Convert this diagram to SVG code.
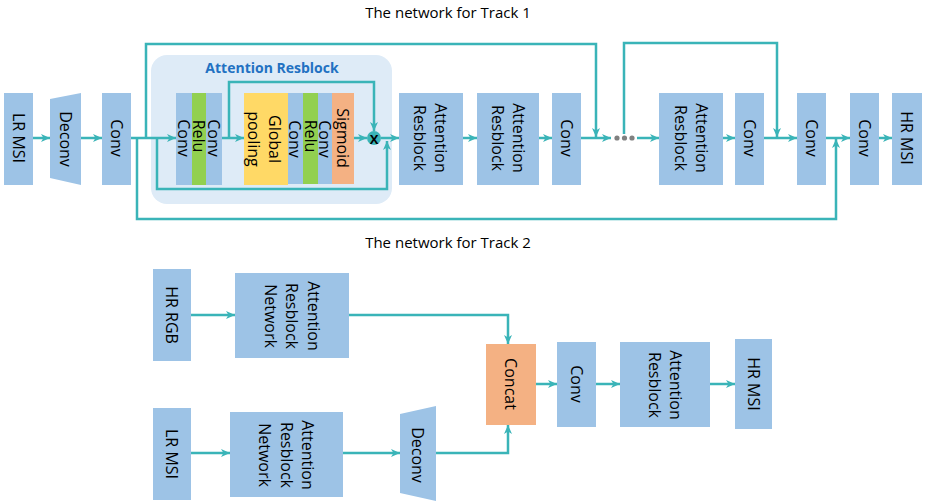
<svg xmlns="http://www.w3.org/2000/svg" width="925" height="501" viewBox="0 0 925 501">
<defs>
<marker id="ah" markerUnits="userSpaceOnUse" markerWidth="10" markerHeight="9" refX="9" refY="4.5" orient="auto">
<path d="M0,0.5 L9,4.5 L0,8.5 L2.5,4.5 z" fill="#3AB4B8"/>
</marker>
<style>
.b{fill:#9DC3E6}
.g{fill:#92D050}
.y{fill:#FFD966}
.o{fill:#F4B183}
.t{font-family:"Open Sans","Liberation Sans",sans-serif;font-size:16px;fill:#000;text-anchor:middle;dominant-baseline:central}
.h{font-family:"Open Sans","Liberation Sans",sans-serif;font-size:15px;fill:#000;text-anchor:middle;dominant-baseline:central}
.c{fill:none;stroke:#3AB4B8;stroke-width:2.5}
.a{marker-end:url(#ah)}
</style>
</defs>
<rect width="925" height="501" fill="#fff"/>
<text class="h" x="448" y="12">The network for Track 1</text>
<text class="h" x="448" y="242">The network for Track 2</text>

<g id="attention-resblock-bg">
<rect x="151" y="55" width="241" height="149" rx="16" fill="#DEEBF7"/>
<text x="272" y="67" font-family="Open Sans, Liberation Sans, sans-serif" font-size="14" font-weight="bold" fill="#2271C2" text-anchor="middle" dominant-baseline="central">Attention Resblock</text>
</g>

<g id="connectors">
<line class="c a" x1="33" y1="138" x2="50" y2="138"/>
<line class="c a" x1="81" y1="138" x2="102" y2="138"/>
<line class="c a" x1="131" y1="138" x2="176" y2="138"/>
<line class="c a" x1="222" y1="138" x2="244" y2="138"/>
<line class="c a" x1="354" y1="138" x2="367" y2="138"/>
<line class="c a" x1="381" y1="138" x2="399" y2="138"/>
<line class="c a" x1="463" y1="138" x2="477" y2="138"/>
<line class="c a" x1="539" y1="138" x2="552" y2="138"/>
<line class="c a" x1="581" y1="138" x2="611" y2="138"/>
<line class="c a" x1="637" y1="138" x2="659" y2="138"/>
<line class="c a" x1="723" y1="138" x2="735" y2="138"/>
<line class="c a" x1="764" y1="138" x2="797" y2="138"/>
<line class="c a" x1="826" y1="138" x2="850" y2="138"/>
<line class="c a" x1="879" y1="138" x2="892" y2="138"/>
<polyline class="c a" points="146,138 146,44 596,44 596,137"/>
<polyline class="c a" points="624,134 624,43 777,43 777,137"/>
<polyline class="c a" points="137,138 137,219 836,219 836,139"/>
<polyline class="c a" points="229,138 229,82 374,82 374,131"/>
<polyline class="c a" points="157,138 157,189 387,189 387,141"/>
<line class="c a" x1="191" y1="315" x2="235" y2="315"/>
<polyline class="c a" points="349,315 508,315 508,344"/>
<line class="c a" x1="191" y1="453" x2="230" y2="453"/>
<line class="c a" x1="343" y1="453" x2="400" y2="453"/>
<polyline class="c a" points="436,453 508,453 508,425"/>
<line class="c a" x1="536" y1="384" x2="557" y2="384"/>
<line class="c a" x1="596" y1="384" x2="620" y2="384"/>
<line class="c a" x1="710" y1="384" x2="735" y2="384"/>
</g>

<g id="lr-msi-1"><rect class="b" x="4" y="93" width="29" height="92"/><text class="t" transform="translate(18.5,138) rotate(90)">LR MSI</text></g>
<g id="deconv-1"><polygon class="b" points="50,99 81,93 81,185 50,178"/><text class="t" transform="translate(65.5,139) rotate(90)">Deconv</text></g>
<g id="conv-1"><rect class="b" x="102" y="93" width="29" height="92"/><text class="t" transform="translate(116.5,138) rotate(90)">Conv</text></g>

<g id="conv-relu-conv-a">
<rect class="b" x="176" y="93" width="16" height="92"/>
<rect class="g" x="192" y="93" width="14" height="92"/>
<rect class="b" x="206" y="93" width="16" height="92"/>
<text class="t" transform="translate(184,138) rotate(90)">Conv</text>
<text class="t" transform="translate(199,136) rotate(90)">Relu</text>
<text class="t" transform="translate(214,138) rotate(90)">Conv</text>
</g>
<g id="global-pooling"><rect class="y" x="244" y="93" width="44" height="92"/><text class="t" transform="translate(265,139) rotate(90)"><tspan x="0" y="-10">Global</tspan><tspan x="0" y="11">pooling</tspan></text></g>
<g id="conv-relu-conv-b">
<rect class="b" x="288" y="93" width="15" height="91"/>
<rect class="g" x="303" y="93" width="15" height="91"/>
<rect class="b" x="318" y="93" width="14" height="91"/>
<text class="t" transform="translate(295,139) rotate(90)">Conv</text>
<text class="t" transform="translate(311,136) rotate(90)">Relu</text>
<text class="t" transform="translate(325,139) rotate(90)">Conv</text>
</g>
<g id="sigmoid"><rect class="o" x="332" y="93" width="22" height="91"/><text class="t" transform="translate(343,138) rotate(90)">Sigmoid</text></g>
<g id="multiply"><circle cx="374" cy="138" r="7" fill="#3AB4B8"/><text x="374" y="138.5" font-family="Open Sans, Liberation Sans, sans-serif" font-size="13" font-weight="bold" fill="#000" text-anchor="middle" dominant-baseline="central">X</text></g>

<g id="ar-1"><rect class="b" x="399" y="93" width="64" height="92"/><text class="t" transform="translate(430,138) rotate(90)"><tspan x="0" y="-10.5">Attention</tspan><tspan x="0" y="10.5">Resblock</tspan></text></g>
<g id="ar-2"><rect class="b" x="477" y="93" width="62" height="92"/><text class="t" transform="translate(508,138) rotate(90)"><tspan x="0" y="-10.5">Attention</tspan><tspan x="0" y="10.5">Resblock</tspan></text></g>
<g id="conv-2"><rect class="b" x="552" y="93" width="29" height="92"/><text class="t" transform="translate(566.5,138) rotate(90)">Conv</text></g>
<g id="dots"><circle cx="617" cy="138" r="2.6" fill="#808080"/><circle cx="624.5" cy="138" r="2.6" fill="#808080"/><circle cx="632" cy="138" r="2.6" fill="#808080"/></g>
<g id="ar-3"><rect class="b" x="659" y="93" width="64" height="92"/><text class="t" transform="translate(691,138) rotate(90)"><tspan x="0" y="-10.5">Attention</tspan><tspan x="0" y="10.5">Resblock</tspan></text></g>
<g id="conv-3"><rect class="b" x="735" y="93" width="29" height="92"/><text class="t" transform="translate(749.5,138) rotate(90)">Conv</text></g>
<g id="conv-4"><rect class="b" x="797" y="93" width="29" height="92"/><text class="t" transform="translate(811.5,138) rotate(90)">Conv</text></g>
<g id="conv-5"><rect class="b" x="850" y="93" width="29" height="92"/><text class="t" transform="translate(864.5,138) rotate(90)">Conv</text></g>
<g id="hr-msi-1"><rect class="b" x="892" y="93" width="30" height="92"/><text class="t" transform="translate(907,138) rotate(90)">HR MSI</text></g>

<g id="hr-rgb"><rect class="b" x="153" y="269" width="38" height="92"/><text class="t" transform="translate(172,315) rotate(90)">HR RGB</text></g>
<g id="arn-1"><rect class="b" x="235" y="273" width="114" height="85"/><text class="t" transform="translate(292,316) rotate(90)"><tspan x="0" y="-21.5">Attention</tspan><tspan x="0" y="0">Resblock</tspan><tspan x="0" y="21.5">Network</tspan></text></g>
<g id="lr-msi-2"><rect class="b" x="153" y="408" width="38" height="92"/><text class="t" transform="translate(172,454) rotate(90)">LR MSI</text></g>
<g id="arn-2"><rect class="b" x="230" y="412" width="113" height="85"/><text class="t" transform="translate(286.5,455) rotate(90)"><tspan x="0" y="-21.5">Attention</tspan><tspan x="0" y="0">Resblock</tspan><tspan x="0" y="21.5">Network</tspan></text></g>
<g id="deconv-2"><polygon class="b" points="400,414 436,406 436,501 400,493"/><text class="t" transform="translate(418,455) rotate(90)">Deconv</text></g>
<g id="concat"><rect class="o" x="486" y="344" width="50" height="81"/><text class="t" transform="translate(511,384) rotate(90)">Concat</text></g>
<g id="conv-6"><rect class="b" x="557" y="342" width="39" height="85"/><text class="t" transform="translate(576.5,384) rotate(90)">Conv</text></g>
<g id="ar-4"><rect class="b" x="620" y="342" width="90" height="85"/><text class="t" transform="translate(665,385) rotate(90)"><tspan x="0" y="-10.5">Attention</tspan><tspan x="0" y="10.5">Resblock</tspan></text></g>
<g id="hr-msi-2"><rect class="b" x="735" y="339" width="37" height="90"/><text class="t" transform="translate(753.5,384) rotate(90)">HR MSI</text></g>
</svg>
